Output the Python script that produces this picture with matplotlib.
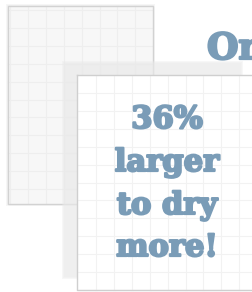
import matplotlib.pyplot as plt
from matplotlib.patches import Rectangle
import matplotlib.patheffects as pe
import numpy as np

# Text content
headline = "Or"
lines = ["36%", "larger", "to dry", "more!"]
text_color = "#7a9cb7"

# Figure in pixel coordinates (252 x 292)
fig = plt.figure(figsize=(2.52, 2.92), dpi=100)
ax = fig.add_axes([0, 0, 1, 1])
ax.set_xlim(0, 252)
ax.set_ylim(292, 0)
ax.axis("off")
fig.patch.set_facecolor("white")


def soft_rect(x0, y0, x1, y1, color, spread, z):
    # cheap blurred rectangle: stacked translucent layers
    for k in range(spread, -1, -1):
        ax.add_patch(Rectangle((x0 - k, y0 - k), x1 - x0 + 2 * k, y1 - y0 + 2 * k,
                               facecolor=color, edgecolor="none",
                               alpha=1.0 / (spread + 1), zorder=z))


# Back sheet
soft_rect(8, 6, 153, 204, "#e4e4e4", 2, 0.5)
ax.add_patch(Rectangle((8, 6), 145, 198, facecolor="#f7f7f7",
                       edgecolor="none", zorder=1))
for gx in np.arange(10, 153, 17.9):
    ax.plot([gx, gx], [6, 204], color="#eeeeee", lw=0.8, zorder=2)
for gy in np.arange(10, 204, 17.9):
    ax.plot([8, 153], [gy, gy], color="#eeeeee", lw=0.8, zorder=2)
ax.add_patch(Rectangle((8, 6), 145, 198, facecolor="none",
                       edgecolor="#d2d2d2", lw=1.0, zorder=3))

# Shadow behind front sheet
soft_rect(64, 63, 241, 277, "#e9e9e9", 2, 4)

# Front sheet (drawn on top)
ax.add_patch(Rectangle((77, 75), 180, 215, facecolor="white",
                       edgecolor="none", zorder=5))
for gx in np.arange(96, 260, 17.9):
    ax.plot([gx, gx], [75, 290], color="#f2f2f2", lw=0.8, zorder=6)
for gy in np.arange(93, 290, 17.9):
    ax.plot([77, 260], [gy, gy], color="#f2f2f2", lw=0.8, zorder=6)
ax.plot([77, 77, 260], [75, 290, 290], color="#cfcfcf", lw=1.0, zorder=7)
ax.plot([77, 260], [75, 75], color="#cfcfcf", lw=1.0, zorder=7)

thick = [pe.withStroke(linewidth=1.6, foreground=text_color)]

# Headline peeking in at top right
ax.text(207, 59, headline, color=text_color, fontsize=26,
        fontfamily="DejaVu Serif", fontweight="bold", ha="left",
        va="baseline", zorder=8, path_effects=thick)

# Main message
baselines = [128, 171, 214, 256]
for txt, yb in zip(lines, baselines):
    ax.text(167, yb, txt, color=text_color, fontsize=22,
            fontfamily="DejaVu Serif", fontweight="bold", ha="center",
            va="baseline", zorder=8, path_effects=thick)

fig.savefig("out.png", dpi=100, facecolor="white")
